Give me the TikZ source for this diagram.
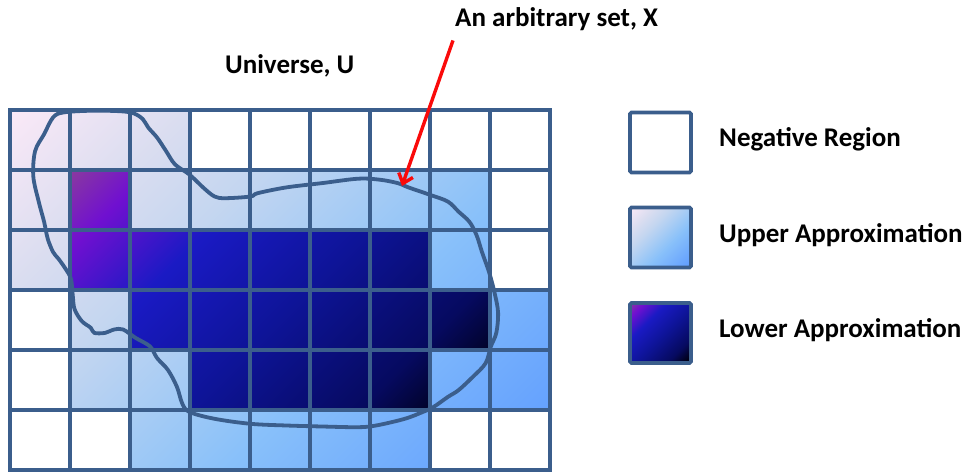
\documentclass[tikz,border=0pt]{standalone}
\usepackage{fontspec}
\setmainfont{Carlito}
\usetikzlibrary{arrows.meta}
\definecolor{gridblue}{RGB}{59,94,140}
\definecolor{arrowred}{RGB}{250,10,10}
\definecolor{upA}{RGB}{251,233,247}
\definecolor{upB}{RGB}{218,221,240}
\definecolor{upC}{RGB}{196,214,240}
\definecolor{upD}{RGB}{156,200,246}
\definecolor{upE}{RGB}{136,192,250}
\definecolor{upF}{RGB}{92,154,255}
\definecolor{lowA}{RGB}{138,58,158}
\definecolor{lowB}{RGB}{112,16,208}
\definecolor{lowC}{RGB}{26,26,196}
\definecolor{lowD}{RGB}{14,20,152}
\definecolor{lowE}{RGB}{6,10,96}
\definecolor{lowF}{RGB}{0,0,24}
\pgfdeclarehorizontalshading{uppershade}{100bp}{color(0bp)=(upA); color(25bp)=(upA);
 color(35bp)=(upB); color(42bp)=(upC); color(52bp)=(upD); color(57bp)=(upE);
 color(75bp)=(upF); color(100bp)=(upF)}
\pgfdeclarehorizontalshading{lowershade}{100bp}{color(0bp)=(lowA); color(25bp)=(lowA);
 color(31bp)=(lowB); color(40bp)=(lowC); color(52bp)=(lowD); color(65bp)=(lowE);
 color(72bp)=(lowF); color(100bp)=(lowF)}
\tikzset{
  gridline/.style={draw=gridblue,line width=3.6pt},
  blobline/.style={draw=gridblue,line width=3.8pt,line join=round},
  legbox/.style={draw=gridblue,line width=3.8pt,rounded corners=1.5pt,minimum width=61pt,minimum height=60pt,inner sep=0pt},
  lbl/.style={font=\bfseries\fontsize{27}{30}\selectfont,inner sep=0pt,anchor=base west},
  redarrow/.style={draw=arrowred,line width=3.4pt,-{Straight Barb[length=9pt,width=15pt]}}
}
\begin{document}
\begin{tikzpicture}[x=1pt,y=-1pt]
\useasboundingbox (0,0) rectangle (963,473);
\begin{scope}
\clip (10,110) -- (190,110) -- (190,170) -- (490,170) -- (490,290) -- (550,290) -- (550,410) -- (430,410)
  -- (430,470) -- (130,470) -- (130,410) -- (70,410) -- (70,290) -- (10,290) -- cycle;
\shade[shading=uppershade,transform canvas={rotate around={-45:(280,290)}}] (-38.2,-28.2) rectangle (598.2,608.2);
\end{scope}
\begin{scope}
\clip (70,170) -- (130,170) -- (130,230) -- (430,230) -- (430,290) -- (490,290) -- (490,350) -- (430,350)
  -- (430,410) -- (190,410) -- (190,350) -- (130,350) -- (130,290) -- (70,290) -- cycle;
\shade[shading=lowershade,transform canvas={rotate around={-45:(280,290)}}] (46.7,56.7) rectangle (513.3,523.3);
\end{scope}
\foreach \i in {1,...,8}
  \draw[gridline] (10+60*\i,110) -- (10+60*\i,470);
\foreach \j in {1,...,5}
  \draw[gridline] (10,110+60*\j) -- (550,110+60*\j);
\draw[gridline] (10,110) rectangle (550,470);
\draw[blobline] plot[smooth cycle,tension=0.55] coordinates {
  (33.3,176.3) (35.1,151.1) (44.1,134.2) (53.1,117.4) (63.8,112.4) (92.5,110.7) (121.3,111.3)
  (133.8,113.4) (142.8,119.1) (148.2,127.5) (157.1,137.6) (166.1,151.1) (175.1,164.5) (189.5,174.6)
  (203.8,188.1) (214.6,196.5) (225.3,198.2) (250.5,196.5) (257.6,193.2) (286.4,187.4) (322.2,183.1)
  (358.1,178.7) (379.7,179.7) (397.6,183.1) (408.4,187.4) (429.9,194.8) (447.9,201.6) (458.6,211.7)
  (469.4,221.8) (476.6,235.3) (482.0,252.1) (489.1,272.3) (494.5,292.5) (498.1,312.7) (496.3,332.9)
  (490.9,346.4) (485.6,363.2) (473.0,376.7) (458.6,390.1) (447.9,396.9) (433.5,407.0) (422.7,412.0)
  (404.8,418.8) (376.1,425.5) (358.1,427.2) (322.2,426.5) (286.4,425.5) (250.5,423.8) (214.6,418.8)
  (189.5,412.0) (182.3,403.6) (176.9,386.8) (167.9,369.9) (157.1,358.1) (150.0,346.4) (135.6,337.9)
  (123.1,329.5) (114.1,329.5) (105.1,332.9) (94.3,332.9) (90.8,327.8) (81.8,321.1) (74.6,309.3)
  (72.8,295.9) (71.0,279.0) (65.6,268.9) (58.5,258.8) (53.1,252.1) (47.7,238.6) (44.1,221.8)
  (38.7,201.6)};
\node[lbl] (universe) at (225,74) {Universe, U};
\node[lbl] (setlabel) at (455,27) {An arbitrary set, X};
\coordinate (xtip) at (402,186);
\draw[redarrow] ([shift={(-2,9)}]setlabel.south west) -- (xtip);
\begin{scope}
\clip (630,207.5) rectangle (691,267.5);
\shade[shading=uppershade,transform canvas={rotate around={-45:(660.5,237.5)}}] (617.7,194.7) rectangle (703.3,280.3);
\end{scope}
\begin{scope}
\clip (630,303) rectangle (691,363);
\shade[shading=lowershade,transform canvas={rotate around={-45:(660.5,333)}}] (617.7,290.2) rectangle (703.3,375.8);
\end{scope}
\node[legbox] (negbox) at (660.5,142.5) {};
\node[legbox] (upbox) at (660.5,237.5) {};
\node[legbox] (lowbox) at (660.5,333) {};
\node[lbl] (negtext) at (719,147) {Negative Region};
\node[lbl] (uptext) at (719,242) {Upper Approximation};
\node[lbl] (lowtext) at (719,337) {Lower Approximation};
\end{tikzpicture}
\end{document}
